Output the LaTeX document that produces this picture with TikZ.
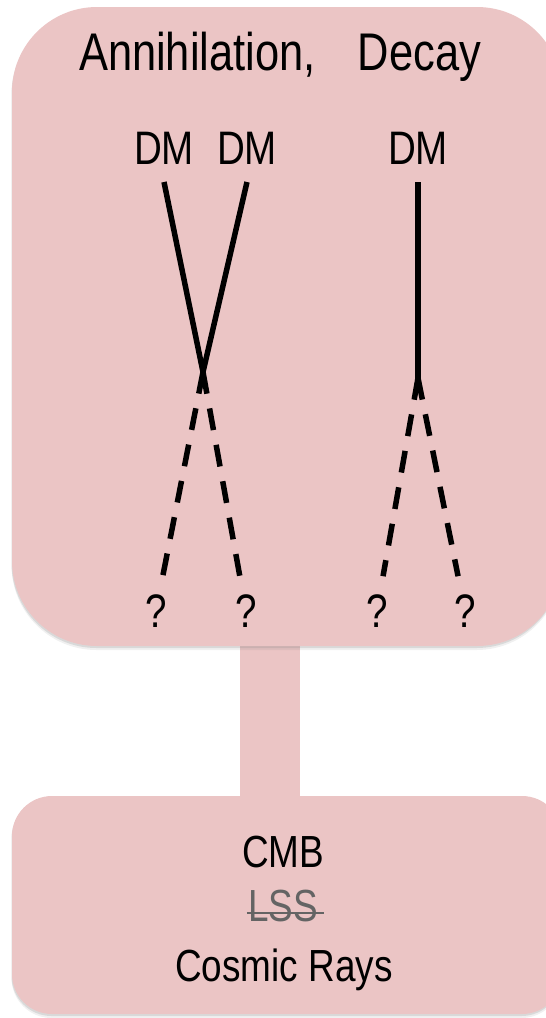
\documentclass[tikz,border=0pt]{standalone}
\usepackage{fontspec}
\setmainfont[FakeStretch=0.82]{Liberation Sans}
\usetikzlibrary{calc,shadows}
\definecolor{boxpink}{RGB}{235,197,197}
\definecolor{lssgray}{RGB}{100,100,100}
\tikzset{
  panel/.style={fill=boxpink, rounded corners=#1,
    drop shadow={shadow xshift=-0.5pt, shadow yshift=-4pt, opacity=.12},
    drop shadow={shadow xshift=-0.5pt, shadow yshift=-2pt, opacity=.2}},
  txt/.style={anchor=base, inner sep=0pt, font=\fontsize{45}{54}\selectfont},
  lbl/.style={txt, outer sep=18pt, font=\fontsize{47}{56}\selectfont},
  leg/.style={line width=5.5pt, black},
  legdash/.style={leg, dash pattern=on 22pt off 15pt},
}

\begin{document}
\begin{tikzpicture}[x=1pt, y=-1pt]
  \useasboundingbox (0,0) rectangle (546,1018);
  % link and panels
  \fill[boxpink] (240,640) rectangle (300,800);
  \fill[panel=85pt] (12,7) rectangle (562,646);
  \fill[panel=40pt] (12,796) rectangle (562,1014);
  %
  \node[txt, font=\fontsize{53}{60}\selectfont] (title) at (280,70) {Annihilation,\hspace{42pt}Decay};
  \node[lbl] (dma) at (164,164) {DM};
  \node[lbl] (dmb) at (247,164) {DM};
  \node[lbl] (dmc) at (418,164) {DM};
  \node[lbl] (qa) at (156,627) {?};
  \node[lbl] (qb) at (246,627) {?};
  \node[lbl] (qc) at (377,627) {?};
  \node[lbl] (qd) at (465,627) {?};
  \coordinate (ann) at (203,372);
  \coordinate (dec) at (418,378);
  %
  \draw[leg] (dma.south) -- (ann);
  \draw[leg] (dmb.south) -- (ann);
  \draw[legdash] (ann) -- (qa);
  \draw[legdash] (ann) -- (qb);
  \draw[leg] (dmc.south) -- (dec);
  \draw[legdash] (dec) -- (qc);
  \draw[legdash] (dec) -- (qd);
  %
  \node[txt] (cmb) at (283,867) {CMB};
  \node[txt, text=lssgray] (lss) at (283,921) {LSS};
  \node[txt] (rays) at (284,981) {Cosmic Rays};
  \draw[lssgray, line width=2.5pt] ([xshift=-1pt, yshift=8pt]lss.base west) -- ([xshift=6pt, yshift=8pt]lss.base east);
\end{tikzpicture}
\end{document}
